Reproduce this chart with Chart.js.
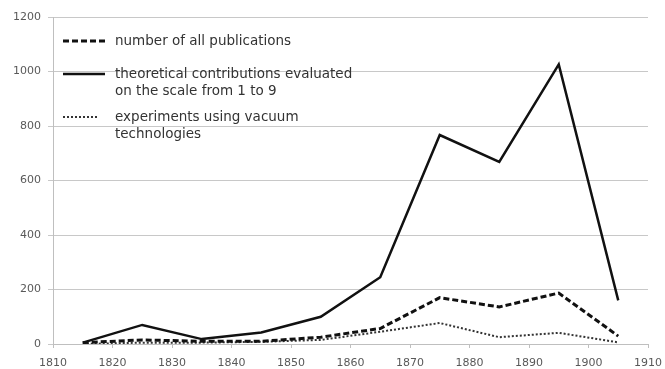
<!DOCTYPE html>
<html>
<head>
<meta charset="utf-8">
<script src="https://cdn.jsdelivr.net/npm/chart.js@4"></script>
<style>
  html, body { margin: 0; padding: 0; background: #fff; }
  #wrap { width: 665px; height: 369px; }
</style>
</head>
<body>
<div id="wrap"><canvas id="pubChart" width="665" height="369"></canvas></div>
<script>
// years of each data point (decade mid-points)
const years = [1815, 1825, 1835, 1845, 1855, 1865, 1875, 1885, 1895, 1905];

// series values
const allPublications = [5, 15, 10, 10, 25, 57, 170, 136, 187, 29];
const theoretical = [5, 70, 18, 42, 100, 245, 767, 668, 1026, 160];
const vacuumExperiments = [0, 5, 5, 8, 15, 45, 77, 25, 41, 6];

// legend texts
const seriesLabels = [
    ['number of all publications'],
    ['theoretical contributions evaluated', 'on the scale from 1 to 9'],
    ['experiments using vacuum', 'technologies']
];

const fontFamily = '"DejaVu Sans", Verdana, sans-serif';

function toPoints(values) {
    return years.map((y, i) => ({ x: y, y: values[i] }));
}

// legend drawn inside the plot area, top-left, like the original
const insideLegend = {
    id: 'insideLegend',
    afterDraw(chart) {
        const ctx = chart.ctx;
        const rows = [41, 74, 117];
        ctx.save();
        chart.data.datasets.forEach((ds, i) => {
            const y = rows[i];
            ctx.beginPath();
            ctx.strokeStyle = ds.borderColor;
            ctx.lineWidth = ds.borderWidth;
            ctx.setLineDash(ds.borderDash || []);
            ctx.moveTo(63, y);
            ctx.lineTo(i === 2 ? 99 : 105, y);
            ctx.stroke();
            ctx.setLineDash([]);
            ctx.fillStyle = '#333';
            ctx.font = '13.5px ' + fontFamily;
            ctx.textBaseline = 'middle';
            seriesLabels[i].forEach((line, j) => {
                ctx.fillText(line, 115, y + j * 17.5);
            });
        });
        ctx.restore();
    }
};

const ctx = document.getElementById('pubChart').getContext('2d');
window.pubChart = new Chart(ctx, {
    type: 'line',
    data: {
        datasets: [{
            label: seriesLabels[0].join(' '),
            data: toPoints(allPublications),
            borderColor: '#111',
            borderWidth: 3,
            borderDash: [6, 3],
            pointRadius: 0,
            tension: 0
        }, {
            label: seriesLabels[1].join(' '),
            data: toPoints(theoretical),
            borderColor: '#111',
            borderWidth: 2.5,
            pointRadius: 0,
            tension: 0
        }, {
            label: seriesLabels[2].join(' '),
            data: toPoints(vacuumExperiments),
            borderColor: '#333',
            borderWidth: 2,
            borderDash: [2, 2],
            pointRadius: 0,
            tension: 0
        }]
    },
    options: {
        responsive: false,
        animation: false,
        layout: { padding: { left: 0, right: 17, top: 17, bottom: 0 } },
        plugins: {
            legend: { display: false },
            tooltip: { enabled: false }
        },
        scales: {
            x: {
                type: 'linear',
                min: 1810,
                max: 1910,
                ticks: {
                    stepSize: 10,
                    color: '#595959',
                    font: { family: fontFamily, size: 11 },
                    padding: 9,
                    maxRotation: 0,
                    callback: v => String(v)
                },
                grid: {
                    drawOnChartArea: false,
                    drawTicks: true,
                    tickLength: 4,
                    color: '#bfbfbf'
                },
                border: { color: '#bfbfbf' },
                afterFit: scale => {
                    scale.height = 25;
                    scale.paddingLeft = 0;
                    scale.paddingRight = 0;
                }
            },
            y: {
                min: 0,
                max: 1200,
                ticks: {
                    stepSize: 200,
                    color: '#595959',
                    font: { family: fontFamily, size: 11 },
                    padding: 7,
                    callback: v => String(v)
                },
                grid: {
                    color: '#c8c8c8',
                    tickLength: 5,
                    drawTicks: true
                },
                border: { color: '#bfbfbf' },
                afterFit: scale => {
                    scale.width = 53;
                    scale.paddingTop = 0;
                    scale.paddingBottom = 0;
                }
            }
        }
    },
    plugins: [insideLegend]
});
</script>
</body>
</html>
